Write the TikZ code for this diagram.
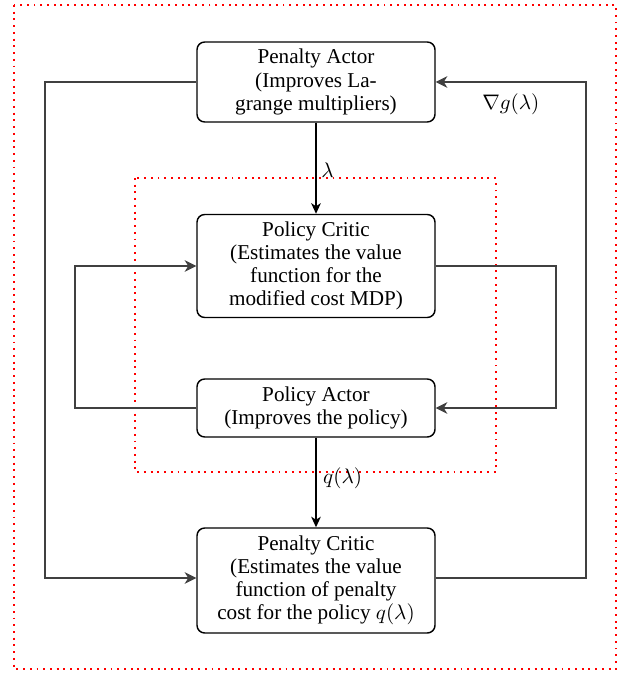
\documentclass[tikz,border=0pt]{standalone}
\usepackage{fontspec}
\setmainfont{Liberation Serif}
\usetikzlibrary{arrows.meta}
\begin{document}
\begin{tikzpicture}[x=0.52pt,y=-0.52pt,
  blockbox/.style={draw=black, line width=0.75pt, rounded corners=4pt, minimum width=238*0.52pt, align=center, inner sep=0pt, font=\fontsize{11pt}{12pt}\selectfont},
  loopline/.style={draw=black!75, line width=1.2pt, -{Stealth[length=6pt,width=6pt,inset=1.8pt]}},
  mainline/.style={draw=black, line width=0.8pt, -{Stealth[length=5.5pt,width=5pt,inset=1.6pt]}},
  reddot/.style={draw=red, line width=1pt, dash pattern=on 1pt off 2.5pt},
  lbl/.style={font=\fontsize{11pt}{12pt}\selectfont}]
\useasboundingbox (0,0) rectangle (624,675);
\draw[reddot] (14,5) rectangle (616,669);
\draw[reddot] (135,178) rectangle (496,472);

\node[blockbox, minimum height=80*0.52pt] (pa) at (316,82) {Penalty Actor\\(Improves La-\\grange multipliers)};
\node[blockbox, minimum height=103*0.52pt] (pc) at (316,266) {Policy Critic\\(Estimates the value\\function for the\\modified cost MDP)};
\node[blockbox, minimum height=58*0.52pt] (pol) at (316,408) {Policy Actor\\(Improves the policy)};
\node[blockbox, minimum height=105*0.52pt] (pen) at (316,580.5) {Penalty Critic\\(Estimates the value\\function of penalty\\cost for the policy $q(\lambda)$};

\draw[mainline] (pa) -- node[lbl, right, pos=0.52, xshift=-1pt] {$\lambda$} (pc);
\draw[mainline] (pol) -- node[lbl, right, pos=0.45, xshift=0pt] {$q(\lambda)$} (pen);

\coordinate (ol) at (45,82);
\coordinate (ob) at (45,578);
\coordinate (or) at (586,578);
\coordinate (ot) at (586,82);
\draw[loopline] (pa.west |- ol) -- (ol) -- (ob) -- (ob -| pen.west);
\draw[loopline] (pen.east |- or) -- (or) -- (ot) -- node[lbl, below, pos=0.5, yshift=-2pt] {$\nabla g(\lambda)$} (ot -| pa.east);

\coordinate (il) at (75,408);
\coordinate (it) at (75,266);
\coordinate (ir) at (556,266);
\coordinate (ib) at (556,408);
\draw[loopline] (pol.west |- il) -- (il) -- (it) -- (it -| pc.west);
\draw[loopline] (pc.east |- ir) -- (ir) -- (ib) -- (ib -| pol.east);
\end{tikzpicture}
\end{document}
